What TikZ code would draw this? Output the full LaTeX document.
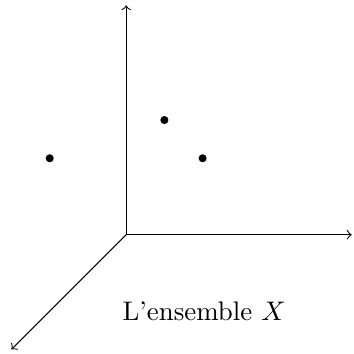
\documentclass[tikz,border=0pt]{standalone}
\begin{document}
\begin{tikzpicture}[axis/.style={->},pt/.style={circle,fill,inner sep=0pt,minimum size=3pt}]
\useasboundingbox (-1.65,-1.56) rectangle (2.97,3.07);
\coordinate (O) at (0,0);
\coordinate (Z) at (0,3);
\coordinate (Xe) at (2.95,0);
\coordinate (Ye) at (-1.5,-1.5);
\draw[axis] (O) -- (Z);
\draw[axis] (O) -- (Xe);
\draw[axis] (O) -- (Ye);
\node[pt] (p1) at (-1,1) {};
\node[pt] (p2) at (0.5,1.5) {};
\node[pt] (p3) at (1,1) {};
\node (lab) at (1.02,-1) {L'ensemble $X$};
\end{tikzpicture}
\end{document}
